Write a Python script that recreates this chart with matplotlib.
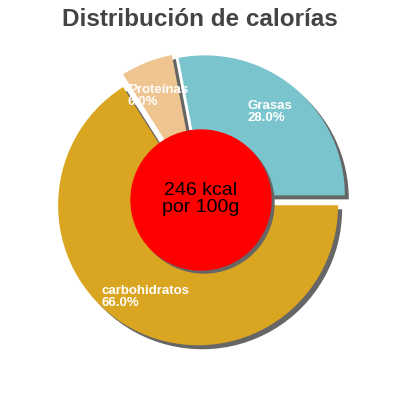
import matplotlib
matplotlib.use("Agg")
import matplotlib.pyplot as plt
from matplotlib.patches import Circle

categories = ["Grasas", "Proteínas", "carbohidratos"]
values = [28.0, 6.0, 66.0]
colors = ["#7AC5CD", "#EEC591", "#DAA520"]
explode_px = [6, 8, 6]
label_pos = [(247, 288), (128, 304), (102, 103)]  # (x, y) in figure px, y up
center_text = "246 kcal\npor 100g"
title = "Distribución de calorías"

plt.rcParams['font.family'] = ['Liberation Sans', 'DejaVu Sans']

fig = plt.figure(figsize=(4, 4), dpi=100)
ax = fig.add_axes([0, 0, 1, 1])

cx, cy, R = 201, 200, 140
total = sum(values)

# shadow
ax.pie(values, colors=["#666666"] * 3, startangle=0, counterclock=True,
       explode=explode_px, radius=R, center=(cx + 4, cy - 4), frame=True,
       wedgeprops=dict(linewidth=0))
ax.pie(values, colors=colors, startangle=0, counterclock=True,
       explode=explode_px, radius=R, center=(cx, cy), frame=True,
       wedgeprops=dict(linewidth=0))
ax.set_xlim(0, 400)
ax.set_ylim(0, 400)
ax.set_aspect('equal')
ax.axis('off')

ax.add_patch(Circle((cx + 3, cy - 3), 70, color="#666666", zorder=5))
ax.add_patch(Circle((cx, cy), 70, color="#FF0000", zorder=6))
ax.text(cx, cy + 1, center_text, ha='center', va='center', fontsize=14,
        color='black', zorder=7, linespacing=0.95)

for name, v, (x, y) in zip(categories, values, label_pos):
    ax.text(x, y, f"{name}\n{v / total * 100:.1f}%", ha='left', va='center',
            fontsize=9.5, color='white', zorder=8, linespacing=0.9,
            fontweight='semibold')

ax.text(200, 380, title, ha='center', va='center', fontsize=17.5,
        fontweight='bold', color='#444444')

fig.savefig("out.png", dpi=100)
